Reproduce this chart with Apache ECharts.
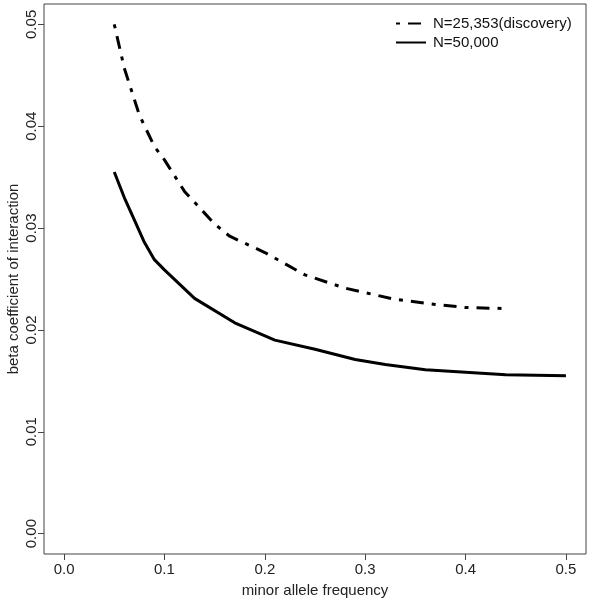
<!DOCTYPE html>
<html>
<head>
<meta charset="utf-8">
<script src="https://cdn.jsdelivr.net/npm/echarts@6/dist/echarts.min.js"></script>
<style>
html,body{margin:0;padding:0;background:#fff;}
#chart{width:591px;height:601px;}
</style>
</head>
<body>
<div id="chart"></div>
<script>
// Data
var seriesNames = ["N=25,353(discovery)", "N=50,000"];
var mafDiscovery = [0.05, 0.06, 0.075, 0.09, 0.10, 0.12, 0.15, 0.165, 0.20, 0.24, 0.28, 0.33, 0.37, 0.40, 0.44];
var betaDiscovery = [0.0500, 0.0457, 0.0411, 0.0380, 0.0367, 0.0336, 0.0304, 0.0292, 0.0276, 0.0254, 0.0241, 0.0230, 0.0225, 0.0222, 0.0221];
var maf50k = [0.05, 0.06, 0.07, 0.08, 0.09, 0.10, 0.13, 0.17, 0.21, 0.25, 0.29, 0.32, 0.36, 0.44, 0.50];
var beta50k = [0.0355, 0.0330, 0.0308, 0.0286, 0.0269, 0.0259, 0.0231, 0.0207, 0.0190, 0.0181, 0.0171, 0.0166, 0.0161, 0.0156, 0.0155];
var xTicks = [0.0, 0.1, 0.2, 0.3, 0.4, 0.5];
var yTicks = [0.00, 0.01, 0.02, 0.03, 0.04, 0.05];
var xTitle = "minor allele frequency";
var yTitle = "beta coefficient of interaction";

function pairs(xs, ys) { return xs.map(function (x, i) { return [x, ys[i]]; }); }

var font = "'Liberation Sans', Arial, sans-serif";
var chart = echarts.init(document.getElementById('chart'), null, {renderer: 'canvas'});
chart.setOption({
  animation: false,
  backgroundColor: '#fff',
  grid: {left: 44, right: 5, top: 4, bottom: 47, containLabel: false, outerBoundsMode: 'none',
    show: true, borderColor: '#444', borderWidth: 1, backgroundColor: 'transparent'},
  legend: {
    orient: 'vertical', left: 390, top: 11, itemWidth: 30, itemHeight: 12, itemGap: 4,
    itemStyle: {opacity: 0},
    textStyle: {fontFamily: font, fontSize: 15, color: '#111', padding: [0, 0, 0, 2]}
  },
  xAxis: {
    type: 'value', min: -0.02, max: 0.52,
    splitLine: {show: false},
    axisLine: {show: false, onZero: false},
    axisTick: {show: true, inside: false, length: 6, lineStyle: {color: '#444'}, customValues: xTicks},
    axisLabel: {customValues: xTicks, margin: 8, fontFamily: font, fontSize: 15, color: '#222',
      formatter: function (v) { return v.toFixed(1); }},
    name: xTitle, nameLocation: 'middle', nameGap: 29, nameMoveOverlap: false,
    nameTextStyle: {fontFamily: font, fontSize: 15, color: '#222'}
  },
  yAxis: {
    type: 'value', min: -0.002, max: 0.052,
    splitLine: {show: false},
    axisLine: {show: false, onZero: false},
    axisTick: {show: true, inside: false, length: 6, lineStyle: {color: '#444'}, customValues: yTicks},
    axisLabel: {customValues: yTicks, rotate: 90, margin: 5, fontFamily: font, fontSize: 15, color: '#222',
      formatter: function (v) { return v.toFixed(2); }},
    name: yTitle, nameLocation: 'middle', nameGap: 23, nameMoveOverlap: false,
    nameTextStyle: {fontFamily: font, fontSize: 15, color: '#222'}
  },
  series: [
    {
      name: seriesNames[0], type: 'line', data: pairs(mafDiscovery, betaDiscovery),
      showSymbol: false, symbol: 'none', smooth: false,
      lineStyle: {color: '#000', width: 3, type: [4, 8, 13, 8], cap: 'butt'},
      itemStyle: {color: '#000'}
    },
    {
      name: seriesNames[1], type: 'line', data: pairs(maf50k, beta50k),
      showSymbol: false, symbol: 'none', smooth: false,
      lineStyle: {color: '#000', width: 3, type: 'solid'},
      itemStyle: {color: '#000'}
    }
  ]
});
</script>
</body>
</html>
